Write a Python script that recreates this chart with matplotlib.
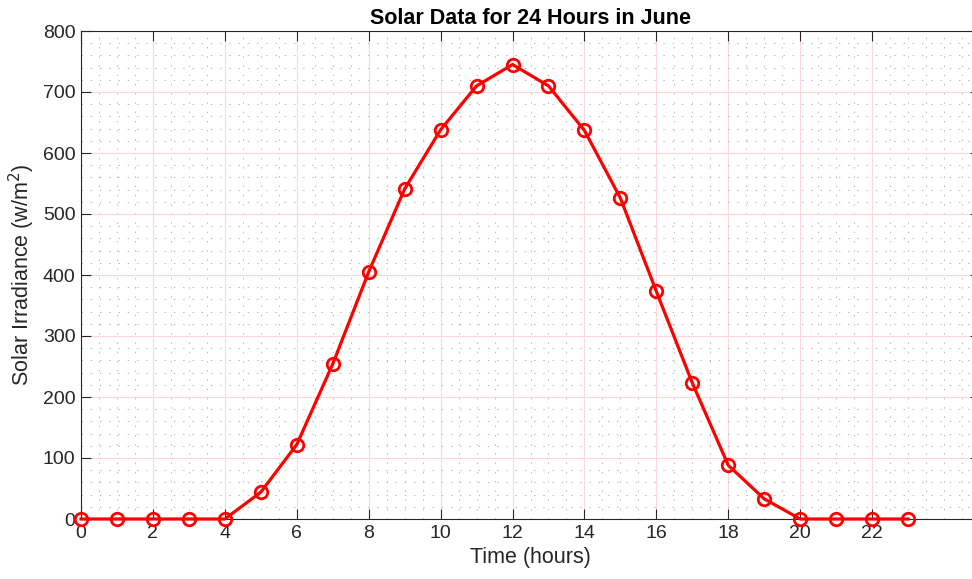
import numpy as np
import matplotlib.pyplot as plt
from matplotlib.ticker import MultipleLocator

plt.rcParams["font.family"] = ["Liberation Sans", "DejaVu Sans"]

hours = list(range(24))
irradiance = [0, 0, 0, 0, 0, 44, 122, 254, 405, 541, 638, 710, 745, 710, 637,
              526, 373, 223, 88, 33, 0, 0, 0, 0]

txt = "#262626"

fig = plt.figure(figsize=(9.72, 5.79), dpi=100)
# axes runs a little past the right edge of the figure, like the original
ax = fig.add_axes([81 / 972, 60 / 579, 899 / 972, 488 / 579])

ax.plot(hours, irradiance, color="red", lw=2.3, marker="o", ms=9,
        mfc="none", mec="red", mew=2, clip_on=False, zorder=5)

ax.set_xlim(0, 25)
ax.set_ylim(0, 800)
ax.xaxis.set_major_locator(MultipleLocator(2))
ax.yaxis.set_major_locator(MultipleLocator(100))
ax.xaxis.set_minor_locator(MultipleLocator(0.5))
ax.yaxis.set_minor_locator(MultipleLocator(20))
ax.set_xticks(range(0, 24, 2))

ax.grid(which="major", color="#ffd6dc", lw=0.8, ls="-")
ax.grid(which="minor", color="#b8b8b8", lw=0.7, ls=(0, (1.5, 8)))
ax.set_axisbelow(True)

ax.tick_params(which="major", direction="in", length=7, width=0.8,
               top=True, right=True, labelsize=14, colors=txt, pad=4)
ax.tick_params(which="minor", length=0)
for s in ax.spines.values():
    s.set_color(txt)
    s.set_linewidth(0.8)

ax.set_xlabel("Time (hours)", fontsize=15.5, color=txt, labelpad=4)
ax.set_ylabel("Solar Irradiance (w/m$^2$)", fontsize=15.5, color=txt, labelpad=4)
ax.set_title("Solar Data for 24 Hours in June", fontsize=15.5, fontweight="bold",
             color="black", pad=5)

fig.savefig("out.png", dpi=100)
